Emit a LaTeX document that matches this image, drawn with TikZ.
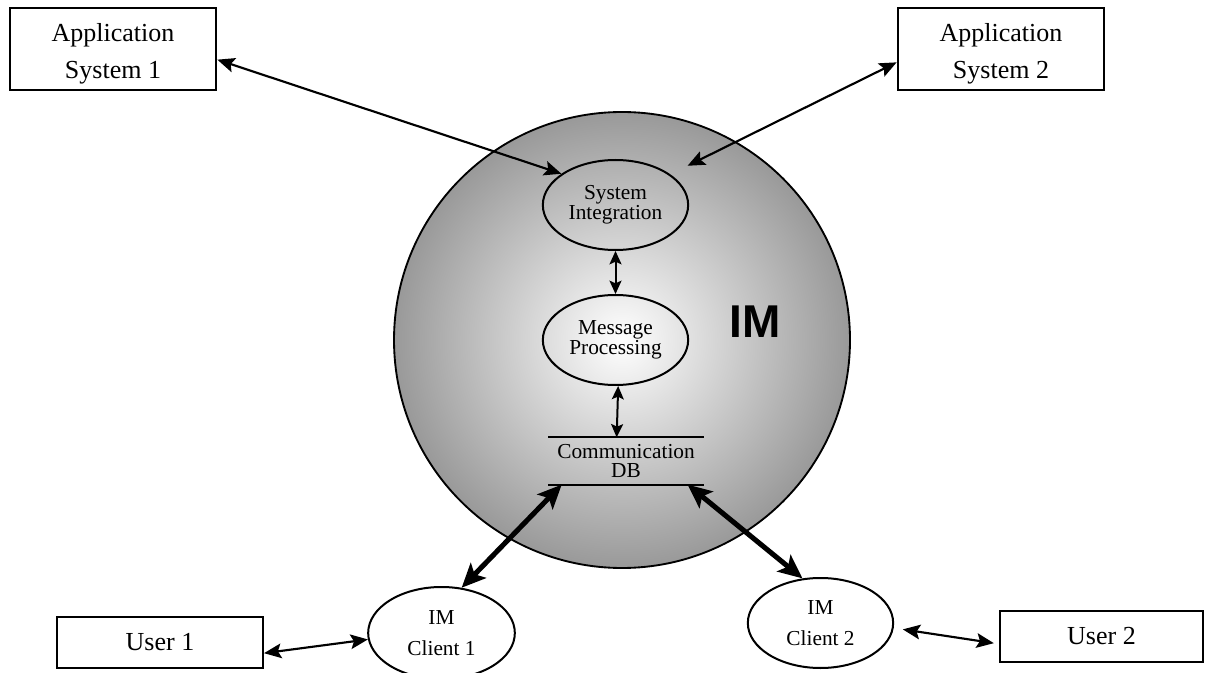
\documentclass[tikz,border=0pt]{standalone}
\usepackage{fontspec}
\setmainfont{Liberation Serif}
\newfontfamily\imfont{Liberation Sans}
\usetikzlibrary{arrows.meta}
\usetikzlibrary{shapes.geometric}
\usetikzlibrary{calc}

\begin{document}
\begin{tikzpicture}
	[x=0.75pt,y=-0.75pt,
	 sysbox/.style={draw, line width=1.5pt, align=center, inner sep=0pt, font=\fontsize{19.5}{27.5}\selectfont},
	 boxtext/.style={align=center, inner sep=0pt, yshift=-3.5pt, font=\fontsize{19.5}{27.5}\selectfont},
	 procell/.style={draw, ellipse, line width=1.5pt, align=center, inner sep=0pt, minimum width=109pt, minimum height=67.5pt, font=\fontsize{16}{13}\selectfont},
	 clientell/.style={draw, ellipse, line width=1.5pt, align=center, inner sep=0pt, fill=white, font=\fontsize{16}{23}\selectfont},
	 thinarrow/.style={{Stealth[length=13pt,width=11pt,inset=2.5pt]}-{Stealth[length=13pt,width=11pt,inset=2.5pt]}, line width=1.6pt},
	 smallarrow/.style={{Stealth[length=10pt,width=9pt,inset=2pt]}-{Stealth[length=10pt,width=9pt,inset=2pt]}, line width=1.5pt},
	 thickarrow/.style={{Stealth[length=18pt,width=16pt,inset=4pt]}-{Stealth[length=18pt,width=16pt,inset=4pt]}, line width=3.8pt}];

	\useasboundingbox (0,0) rectangle (1206,673);

	%IM sphere
	\coordinate (imc) at (622,340);
	\shade[draw=black, line width=1.4pt, inner color=white, outer color=black!40] (imc) circle [radius=171pt];

	%Inner parts
	\node[procell] (si) at (615.5,205) {System\\Integration};
	\node[procell] (mp) at (615.5,340) {Message\\Processing};
	\node[align=center, inner sep=0pt, minimum width=116pt, minimum height=35pt, font=\fontsize{16}{14}\selectfont] (db) at (626,461) {Communication\\DB};
	\draw[line width=1.5pt] (db.north west) -- (db.north east);
	\draw[line width=1.5pt] (db.south west) -- (db.south east);
	\node[font=\imfont\bfseries\fontsize{34.5}{40}\selectfont] (im) at (755,322) {IM};

	%Outer systems
	\node[sysbox, minimum width=155pt, minimum height=61.5pt, label={[boxtext]center:Application\\System 1}] (app1) at (113,49) {};
	\node[sysbox, minimum width=155pt, minimum height=61.5pt, label={[boxtext]center:Application\\System 2}] (app2) at (1001,49) {};
	\node[sysbox, minimum width=154.5pt, minimum height=38pt] (user1) at (160,642.5) {User 1};
	\node[sysbox, minimum width=152pt, minimum height=38pt] (user2) at (1101.5,636.5) {User 2};
	\node[clientell, minimum width=110pt, minimum height=69pt] (c1) at (441.5,633) {IM\\Client 1};
	\node[clientell, minimum width=109pt, minimum height=67.5pt] (c2) at (820.5,623) {IM\\Client 2};

	%Links
	\draw[thinarrow] ([yshift=-8pt]app1.east) -- (si.150);
	\draw[thinarrow] ([yshift=-10pt]app2.west) -- ($(si.30)+(18,-8)$);
	\draw[smallarrow] (si.south) -- (mp.north);
	\draw[smallarrow] ([xshift=2pt]mp.south) -- ([xshift=-7pt]db.north);
	\draw[thickarrow] ([xshift=10pt]db.south west) -- (c1.66);
	\draw[thickarrow] ([xshift=-12pt]db.south east) -- (c2.112);
	\draw[thinarrow] ([yshift=-8pt]user1.east) -- (c1.185);
	\draw[thinarrow] ([xshift=7pt]c2.-5) -- ([xshift=-4pt,yshift=-5pt]user2.west);
\end{tikzpicture}
\end{document}
